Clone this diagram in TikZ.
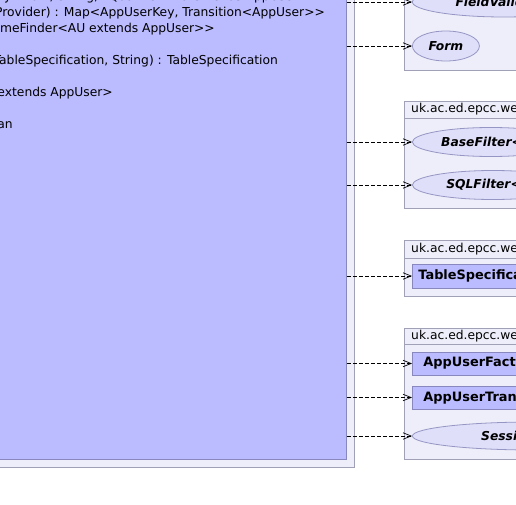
\documentclass[tikz,border=0pt]{standalone}
\usepackage{fontspec}
\setmainfont{DejaVu Sans}
\usetikzlibrary{positioning, arrows.meta, shapes.geometric}

\definecolor{pkgfill}{RGB}{238,238,250}
\definecolor{pkgline}{RGB}{160,160,182}
\definecolor{clsfill}{RGB}{187,187,255}
\definecolor{clsline}{RGB}{136,136,190}
\definecolor{ifcfill}{RGB}{223,223,250}
\definecolor{ifcline}{RGB}{150,150,196}

\begin{document}
\begin{tikzpicture}[
    x=1pt, y=-1pt,
    font=\fontsize{12.3}{16}\selectfont,
    pkg/.style={
        rectangle,
        draw=pkgline,
        fill=pkgfill,
        line width=0.8pt,
        anchor=north west,
        inner sep=0pt
    },
    pkgname/.style={
        anchor=west,
        inner sep=0pt
    },
    cls/.style={
        rectangle,
        draw=clsline,
        fill=clsfill,
        line width=0.8pt,
        anchor=west,
        minimum height=23pt,
        inner ysep=0pt,
        font=\fontsize{12.9}{16}\selectfont\bfseries
    },
    ifc/.style={
        ellipse,
        draw=ifcline,
        fill=ifcfill,
        line width=0.8pt,
        anchor=west,
        minimum height=29pt,
        inner sep=0pt,
        font=\fontsize{12.3}{16}\selectfont\bfseries\itshape
    },
    op/.style={
        anchor=base east,
        inner sep=0pt
    },
    dep/.style={
        line width=0.7pt,
        dash pattern=on 4pt off 2pt,
        -{Straight Barb[length=8pt, width=6.5pt]}
    }
]

\useasboundingbox (0,0) rectangle (516,505);
\clip (0,0) rectangle (516,505);

% Left package with the class
\node[pkg, minimum width=400pt, minimum height=517pt] (authpkg) at (-46,-50) {};
\node[cls, anchor=north west, minimum width=400pt, minimum height=509pt] (appcls) at (-54,-50) {};

% Operations of the class
\node[op] (op1) at (298,1) {getTransitions(AppUserFactory<AU>, String, FQualifier<AU extends AppUser};
\node[op] (op2) at (325,17) {getTransitions(AppUserTransitionProvider) : Map<AppUserKey, Transition<AppUser>{}>};
\node[op] (op3) at (215,33) {getRealmFinder(String) : AppUserNameFinder<AU extends AppUser>{}>};
\node[op] (op4) at (278,65) {getFinalTableSpecification(TableSpecification, String) : TableSpecification};
\node[op] (op5) at (113,97) {getService() : SessionService<AU extends AppUser>};
\node[op] (op6) at (13,129) {isAutoCreate() : boolean};

% Package: forms
\node[pkg, minimum width=160pt, minimum height=120pt] (formpkg) at (404,-50) {};
\node[ifc, minimum width=183pt, minimum height=30pt] (fieldval) at (412,2) {FieldValidator};
\node[ifc, minimum width=67pt, minimum height=30pt] (form) at (412,46) {Form};

% Package: filter
\node[pkg, minimum width=160pt, minimum height=107pt] (filterpkg) at (404,101) {};
\draw[pkgline, line width=0.8pt] ([yshift=-17pt]filterpkg.north west) -- ([yshift=-17pt]filterpkg.north east);
\node[pkgname] (filtername) at ([xshift=7pt, yshift=-8.5pt]filterpkg.north west) {uk.ac.ed.epcc.webapp.jdbc.filter};
\node[ifc, minimum width=157pt] (basefilter) at (412,142) {BaseFilter<T>};
\node[ifc, minimum width=161pt] (sqlfilter) at (412,185) {SQLFilter<T>};

% Package: table
\node[pkg, minimum width=160pt, minimum height=56pt] (tablepkg) at (404,240) {};
\draw[pkgline, line width=0.8pt] ([yshift=-18pt]tablepkg.north west) -- ([yshift=-18pt]tablepkg.north east);
\node[pkgname] (tablename) at ([xshift=7pt, yshift=-9pt]tablepkg.north west) {uk.ac.ed.epcc.webapp.jdbc.table};
\node[cls, minimum height=24pt, inner xsep=6pt] (tablespec) at (412,276) {TableSpecification};

% Package: session
\node[pkg, minimum width=160pt, minimum height=131pt] (sessionpkg) at (404,328) {};
\draw[pkgline, line width=0.8pt] ([yshift=-16pt]sessionpkg.north west) -- ([yshift=-16pt]sessionpkg.north east);
\node[pkgname] (sessionname) at ([xshift=7pt, yshift=-8pt]sessionpkg.north west) {uk.ac.ed.epcc.webapp.session};
\node[cls, inner xsep=11pt] (userfac) at (412,363.5) {AppUserFactory<AU>};
\node[cls, inner xsep=11pt] (usertrans) at (412,397.5) {AppUserTransitionProvider};
\node[ifc, minimum width=242pt, minimum height=28pt] (sessserv) at (412,436) {SessionService};

% Dependencies
\foreach \t in {fieldval, form, basefilter, sqlfilter, tablespec, userfac, usertrans, sessserv}
    \draw[dep] (appcls.east |- \t.west) -- (\t.west);

\end{tikzpicture}
\end{document}
